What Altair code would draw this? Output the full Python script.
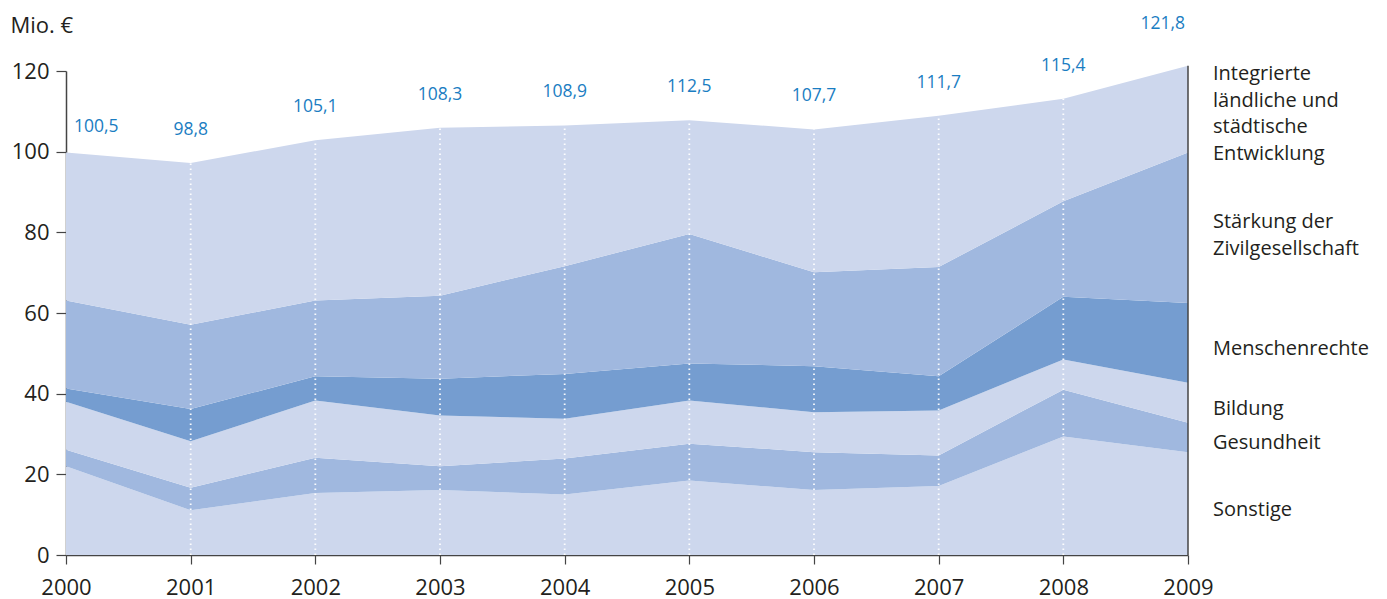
import altair as alt
import pandas as pd

years = [2000, 2001, 2002, 2003, 2004, 2005, 2006, 2007, 2008, 2009]

# stacked segments (Mio. €), bottom to top
sonstige = [22.0, 11.1, 15.4, 16.1, 15.0, 18.5, 16.1, 17.1, 29.4, 25.5]
gesundheit = [4.1, 5.6, 8.7, 5.9, 8.9, 9.1, 9.4, 7.6, 11.6, 7.3]
bildung = [11.9, 11.5, 14.2, 12.6, 9.9, 10.7, 9.9, 11.1, 7.5, 9.9]
menschenrechte = [3.3, 8.0, 6.0, 9.1, 11.1, 9.2, 11.4, 8.5, 15.5, 19.8]
zivilgesellschaft = [21.8, 20.9, 18.8, 20.6, 26.7, 32.1, 23.3, 27.1, 23.7, 37.3]
integrierte = [36.7, 40.1, 39.7, 41.6, 34.9, 28.2, 35.4, 37.5, 25.4, 21.5]

total_labels = ["100,5", "98,8", "105,1", "108,3", "108,9", "112,5", "107,7", "111,7", "115,4", "121,8"]

categories = ["Sonstige", "Gesundheit", "Bildung", "Menschenrechte", "Zivilgesellschaft", "Integrierte"]
legend_texts = [
    "Sonstige",
    "Gesundheit",
    "Bildung",
    "Menschenrechte",
    "Stärkung der\nZivilgesellschaft",
    "Integrierte\nländliche und\nstädtische\nEntwicklung",
]
colors = ["#CDD7ED", "#A0B8DF", "#CDD7ED", "#759DD0", "#A0B8DF", "#CDD7ED"]

series = [sonstige, gesundheit, bildung, menschenrechte, zivilgesellschaft, integrierte]

rows = []
for ci, (cat, vals) in enumerate(zip(categories, series)):
    for y, v in zip(years, vals):
        rows.append({"year": y, "category": cat, "value": v, "order": ci})
df = pd.DataFrame(rows)

totals = [round(sum(s[i] for s in series), 2) for i in range(len(years))]
tot_df = pd.DataFrame({"year": years, "total": totals, "label": total_labels, "base": [0] * len(years)})

# legend positions: midpoint of each band at the last year
cum = 0.0
leg_rows = []
for cat, txt, vals in zip(categories, legend_texts, series):
    v = vals[-1]
    leg_rows.append({"year": years[-1], "mid": cum + v / 2, "text": txt,
                     "nlines": txt.count("\n") + 1})
    cum += v
leg_df = pd.DataFrame(leg_rows)

FONT = "Open Sans"
DARK = "#231f20"
BLUE = "#1a7dc2"
LH = 26.5
LEG_DY = {1: 6, 2: 8 - LH / 2, 4: 5 - 3 * LH / 2}

xscale = alt.Scale(domain=[2000, 2009], nice=False, zero=False)
yscale = alt.Scale(domain=[0, 120], nice=False)

area = alt.Chart(df).mark_area(interpolate="linear").encode(
    x=alt.X("year:Q", scale=xscale,
            axis=alt.Axis(values=years, format="d", title=None, grid=False,
                          labelFlush=False, labelFontSize=22, labelFont=FONT,
                          labelColor=DARK, domainColor="#444", tickColor="#444",
                          tickSize=9, labelPadding=13, domainWidth=1.5, tickWidth=1.2)),
    y=alt.Y("value:Q", stack="zero", scale=yscale,
            axis=alt.Axis(values=[0, 20, 40, 60, 80, 100, 120], title="Mio. €", grid=False,
                          labelFontSize=22, labelFont=FONT, labelColor=DARK,
                          domainColor="#444", tickColor="#444", tickSize=10,
                          labelPadding=7, domainWidth=1.5, tickWidth=1.2,
                          titleAngle=0, titleAlign="left", titleBaseline="middle",
                          titleX=-56, titleY=-46, titleFontSize=22, titleFont=FONT,
                          titleFontWeight="normal", titleColor=DARK)),
    color=alt.Color("category:N", scale=alt.Scale(domain=categories, range=colors), legend=None),
    order=alt.Order("order:Q", sort="ascending"),
)

grid = alt.Chart(tot_df).transform_filter(
    (alt.datum.year > 2000) & (alt.datum.year < 2009)
).mark_rule(color="white", strokeDash=[1.6, 3.4], strokeWidth=1.8, opacity=0.95).encode(
    x=alt.X("year:Q", scale=xscale),
    y=alt.Y("base:Q", scale=yscale),
    y2=alt.Y2("total:Q"),
)

right_line = alt.Chart(tot_df).transform_filter(alt.datum.year == 2009).mark_rule(
    color="#444", strokeWidth=1.5
).encode(
    x=alt.X("year:Q", scale=xscale),
    y=alt.Y("base:Q", scale=yscale),
    y2=alt.Y2("total:Q"),
)

def label_layer(cond, align, dx, dy):
    return alt.Chart(tot_df).transform_filter(cond).mark_text(
        align=align, baseline="middle", dx=dx, dy=dy, fontSize=17.5, font=FONT, color=BLUE
    ).encode(
        x=alt.X("year:Q", scale=xscale),
        y=alt.Y("total:Q", scale=yscale),
        text="label:N",
    )

lab_first = label_layer(alt.datum.year == 2000, "left", 8, -25)
lab_mid = label_layer((alt.datum.year > 2000) & (alt.datum.year < 2009), "center", 0, -33)
lab_last = label_layer(alt.datum.year == 2009, "right", -3, -42)

def legend_layer(n):
    return alt.Chart(leg_df).transform_filter(alt.datum.nlines == n).mark_text(
        align="left", baseline="middle", dx=25, dy=LEG_DY[n],
        fontSize=20, font=FONT, color=DARK, lineBreak="\n", lineHeight=LH
    ).encode(
        x=alt.X("year:Q", scale=xscale),
        y=alt.Y("mid:Q", scale=yscale),
        text="text:N",
    )

chart = alt.layer(area, grid, right_line, lab_first, lab_mid, lab_last,
                  legend_layer(1), legend_layer(2), legend_layer(4)).properties(
    width=1122, height=484,
    padding={"left": 58, "top": 63, "right": 186, "bottom": 46},
    autosize=alt.AutoSizeParams(type="none"),
).configure_view(stroke=None)

chart.save("out.html", embed_options={"renderer": "svg", "actions": False})
